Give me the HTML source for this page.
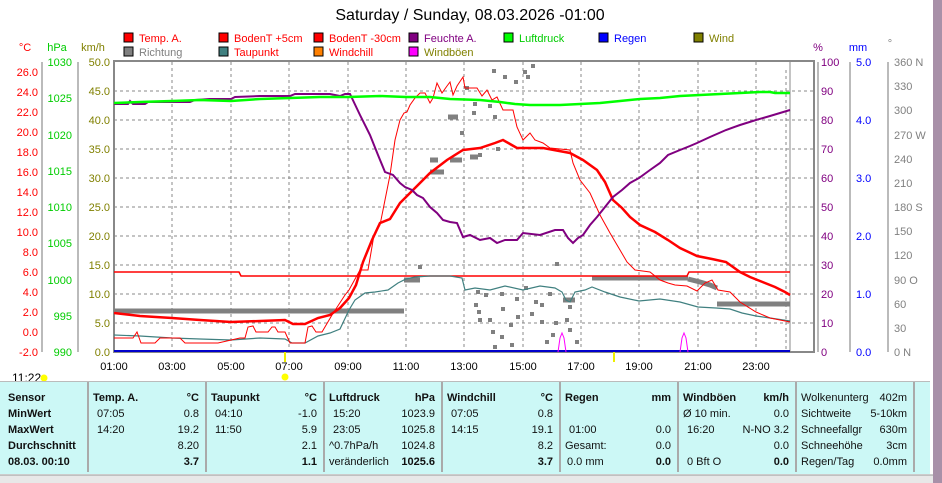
<!DOCTYPE html>
<html><head><meta charset="utf-8"><style>
html,body{margin:0;padding:0;background:#fff;width:942px;height:483px;overflow:hidden;font-family:"Liberation Sans",sans-serif}
svg text{font-family:"Liberation Sans",sans-serif}
.tb{position:absolute;left:0;top:381px;width:930px;height:92px;background:#ccf8f6;border-top:1px solid #bbb}
.col{position:absolute;top:0;height:90px;border-right:2px solid #aaa;font-size:11px;color:#111}
.col div{position:absolute;white-space:nowrap}
</style></head><body>
<svg width="942" height="483" style="position:absolute;left:0;top:0">
<rect x="933" y="0" width="9" height="483" fill="#a890a8"/>
<text x="470" y="20" font-size="16" text-anchor="middle">Saturday / Sunday, 08.03.2026  -01:00</text>
<g font-size="11">
<rect x="124" y="33" width="9" height="9" fill="#f00" stroke="#000"/><text x="139" y="42" fill="#f00">Temp. A.</text>
<rect x="219" y="33" width="9" height="9" fill="#f00" stroke="#000"/><text x="234" y="42" fill="#f00">BodenT +5cm</text>
<rect x="314" y="33" width="9" height="9" fill="#f00" stroke="#000"/><text x="329" y="42" fill="#f00">BodenT -30cm</text>
<rect x="409" y="33" width="9" height="9" fill="#800080" stroke="#000"/><text x="424" y="42" fill="#800080">Feuchte A.</text>
<rect x="504" y="33" width="9" height="9" fill="#0f0" stroke="#000"/><text x="519" y="42" fill="#0c0">Luftdruck</text>
<rect x="599" y="33" width="9" height="9" fill="#00f" stroke="#000"/><text x="614" y="42" fill="#00f">Regen</text>
<rect x="694" y="33" width="9" height="9" fill="#808000" stroke="#000"/><text x="709" y="42" fill="#808000">Wind</text>
<rect x="124" y="47" width="9" height="9" fill="#808080" stroke="#000"/><text x="139" y="56" fill="#808080">Richtung</text>
<rect x="219" y="47" width="9" height="9" fill="#408080" stroke="#000"/><text x="234" y="56" fill="#f00">Taupunkt</text>
<rect x="314" y="47" width="9" height="9" fill="#ff8000" stroke="#000"/><text x="329" y="56" fill="#f00">Windchill</text>
<rect x="409" y="47" width="9" height="9" fill="#f0f" stroke="#000"/><text x="424" y="56" fill="#808000">Windböen</text>
</g>
<g font-size="11">
<text x="25" y="51" fill="#f00" text-anchor="middle">°C</text>
<text x="57" y="51" fill="#0c0" text-anchor="middle">hPa</text>
<text x="93" y="51" fill="#808000" text-anchor="middle">km/h</text>
<text x="818" y="51" fill="#800080" text-anchor="middle">%</text>
<text x="858" y="51" fill="#00f" text-anchor="middle">mm</text>
<text x="890" y="47" fill="#808080" text-anchor="middle">°</text>
</g>
<!-- grid -->
<g stroke="#888" stroke-dasharray="3,3" stroke-width="1">
<line x1="114" x2="814" y1="91" y2="91"/><line x1="114" x2="814" y1="120" y2="120"/><line x1="114" x2="814" y1="149" y2="149"/><line x1="114" x2="814" y1="178" y2="178"/><line x1="114" x2="814" y1="207" y2="207"/><line x1="114" x2="814" y1="236" y2="236"/><line x1="114" x2="814" y1="265" y2="265"/><line x1="114" x2="814" y1="294" y2="294"/><line x1="114" x2="814" y1="323" y2="323"/>
<line x1="172" x2="172" y1="62" y2="352"/><line x1="231" x2="231" y1="62" y2="352"/><line x1="289" x2="289" y1="62" y2="352"/><line x1="348" x2="348" y1="62" y2="352"/><line x1="406" x2="406" y1="62" y2="352"/><line x1="464" x2="464" y1="62" y2="352"/><line x1="523" x2="523" y1="62" y2="352"/><line x1="581" x2="581" y1="62" y2="352"/><line x1="639" x2="639" y1="62" y2="352"/><line x1="698" x2="698" y1="62" y2="352"/><line x1="756" x2="756" y1="62" y2="352"/>
<line x1="786" x2="786" y1="70" y2="352"/>
</g>
<rect x="114" y="61" width="700" height="291" fill="none" stroke="#888" stroke-width="2"/>
<line x1="790" x2="790" y1="62" y2="352" stroke="#888"/>
<!-- left axes -->
<g stroke="#777" fill="none">
<line x1="42" y1="62" x2="42" y2="352"/><line x1="78" y1="62" x2="78" y2="352"/>
<line x1="818" y1="62" x2="818" y2="352"/><line x1="850" y1="62" x2="850" y2="352"/><line x1="888" y1="62" x2="888" y2="352"/>
</g>
<g font-size="11" fill="#f00" text-anchor="end">
<text x="38" y="76">26.0</text><text x="38" y="96">24.0</text><text x="38" y="116">22.0</text><text x="38" y="136">20.0</text><text x="38" y="156">18.0</text><text x="38" y="176">16.0</text><text x="38" y="196">14.0</text><text x="38" y="216">12.0</text><text x="38" y="236">10.0</text><text x="38" y="256">8.0</text><text x="38" y="276">6.0</text><text x="38" y="296">4.0</text><text x="38" y="316">2.0</text><text x="38" y="336">0.0</text><text x="38" y="356">-2.0</text>
</g>
<g font-size="11" fill="#0c0" text-anchor="end">
<text x="72" y="66">1030</text><text x="72" y="102">1025</text><text x="72" y="139">1020</text><text x="72" y="175">1015</text><text x="72" y="211">1010</text><text x="72" y="247">1005</text><text x="72" y="284">1000</text><text x="72" y="320">995</text><text x="72" y="356">990</text>
</g>
<g font-size="11" fill="#808000" text-anchor="end">
<text x="110" y="66">50.0</text><text x="110" y="95">45.0</text><text x="110" y="124">40.0</text><text x="110" y="153">35.0</text><text x="110" y="182">30.0</text><text x="110" y="211">25.0</text><text x="110" y="240">20.0</text><text x="110" y="269">15.0</text><text x="110" y="298">10.0</text><text x="110" y="327">5.0</text><text x="110" y="356">0.0</text>
</g>
<g font-size="11" fill="#800080">
<text x="821" y="66">100</text><text x="821" y="95">90</text><text x="821" y="124">80</text><text x="821" y="153">70</text><text x="821" y="182">60</text><text x="821" y="211">50</text><text x="821" y="240">40</text><text x="821" y="269">30</text><text x="821" y="298">20</text><text x="821" y="327">10</text><text x="821" y="356">0</text>
</g>
<g font-size="11" fill="#00f">
<text x="856" y="66">5.0</text><text x="856" y="124">4.0</text><text x="856" y="182">3.0</text><text x="856" y="240">2.0</text><text x="856" y="298">1.0</text><text x="856" y="356">0.0</text>
</g>
<g font-size="11" fill="#808080">
<text x="894" y="66">360 N</text><text x="894" y="90">330</text><text x="894" y="114">300</text><text x="894" y="139">270 W</text><text x="894" y="163">240</text><text x="894" y="187">210</text><text x="894" y="211">180 S</text><text x="894" y="235">150</text><text x="894" y="259">120</text><text x="894" y="284">90 O</text><text x="894" y="308">60</text><text x="894" y="332">30</text><text x="894" y="356">0 N</text>
</g>
<g font-size="11" fill="#000" text-anchor="middle">
<text x="114" y="370">01:00</text><text x="172" y="370">03:00</text><text x="231" y="370">05:00</text><text x="289" y="370">07:00</text><text x="348" y="370">09:00</text><text x="406" y="370">11:00</text><text x="464" y="370">13:00</text><text x="523" y="370">15:00</text><text x="581" y="370">17:00</text><text x="639" y="370">19:00</text><text x="698" y="370">21:00</text><text x="756" y="370">23:00</text>
</g>
<text x="12" y="382" font-size="12">11:22</text>
<circle cx="44" cy="378" r="3.5" fill="#ff0"/>
<circle cx="285" cy="377" r="3.5" fill="#ff0"/>
<line x1="285" y1="350" x2="285" y2="362" stroke="#ee0" stroke-width="2"/>
<line x1="614" y1="350" x2="614" y2="362" stroke="#ee0" stroke-width="2"/>
<!-- direction gray -->
<g stroke="#808080" stroke-width="5" fill="none">
<line x1="114" y1="311" x2="404" y2="311"/>
<line x1="592" y1="278" x2="688" y2="278"/>
<polyline points="688,279 700,282 710,285 717,288"/>
<line x1="717" y1="304" x2="790" y2="304"/>
<line x1="404" y1="280" x2="420" y2="280"/>
<line x1="450" y1="160" x2="462" y2="160"/>
<line x1="430" y1="172" x2="444" y2="172"/>
<line x1="430" y1="160" x2="438" y2="160"/>
<line x1="470" y1="157" x2="478" y2="157"/>
<line x1="448" y1="117" x2="458" y2="117"/>
<line x1="563" y1="300" x2="575" y2="300"/>
</g>
<g fill="#808080">
<rect x="418" y="265" width="4" height="4"/><rect x="492" y="69" width="4" height="4"/><rect x="503" y="75" width="4" height="4"/><rect x="514" y="80" width="4" height="4"/><rect x="523" y="70" width="4" height="4"/><rect x="531" y="64" width="4" height="4"/><rect x="526" y="75" width="4" height="4"/><rect x="465" y="86" width="4" height="4"/><rect x="473" y="102" width="4" height="4"/><rect x="488" y="104" width="4" height="4"/><rect x="493" y="115" width="4" height="4"/><rect x="472" y="111" width="4" height="4"/><rect x="460" y="131" width="4" height="4"/><rect x="496" y="147" width="4" height="4"/><rect x="478" y="153" width="4" height="4"/><rect x="555" y="262" width="4" height="4"/>
<rect x="476" y="290" width="4" height="4"/><rect x="484" y="293" width="4" height="4"/><rect x="477" y="310" width="4" height="4"/><rect x="478" y="318" width="4" height="4"/><rect x="488" y="318" width="4" height="4"/><rect x="500" y="292" width="4" height="4"/><rect x="501" y="307" width="4" height="4"/><rect x="515" y="297" width="4" height="4"/><rect x="516" y="315" width="4" height="4"/><rect x="509" y="323" width="4" height="4"/><rect x="500" y="335" width="4" height="4"/><rect x="510" y="343" width="4" height="4"/><rect x="491" y="330" width="4" height="4"/><rect x="493" y="345" width="4" height="4"/><rect x="530" y="312" width="4" height="4"/><rect x="540" y="320" width="4" height="4"/><rect x="534" y="300" width="4" height="4"/><rect x="545" y="340" width="4" height="4"/><rect x="554" y="321" width="4" height="4"/><rect x="565" y="318" width="4" height="4"/><rect x="568" y="305" width="4" height="4"/><rect x="575" y="340" width="4" height="4"/><rect x="548" y="292" width="4" height="4"/><rect x="568" y="328" width="4" height="4"/><rect x="524" y="286" width="4" height="4"/><rect x="551" y="333" width="4" height="4"/><rect x="540" y="303" width="4" height="4"/><rect x="474" y="303" width="4" height="4"/>
</g>
<!-- BodenT -30 -->
<polyline points="114,272 239,272 241,276 687,276 689,272 790,272" fill="none" stroke="#f00" stroke-width="1.5"/>
<!-- rain baseline -->
<line x1="114" y1="351" x2="790" y2="351" stroke="#00c" stroke-width="2"/>
<!-- windboen -->
<polyline points="558,352 560,338 562,333 564,338 566,352" fill="none" stroke="#f0f"/>
<polyline points="680,352 682,338 684,333 686,338 688,352" fill="none" stroke="#f0f"/>
<!-- dewpoint -->
<polyline points="114,335 140,336 172,338 200,339 231,340 260,338 285,339 292,343 305,343 318,336 330,333 340,329 349,310 355,300 365,293 375,292 388,290 398,283 406,279 415,277 430,276 450,276 462,278 465,290 475,288 490,290 505,286 523,290 540,286 555,288 562,292 566,300 570,302 575,292 585,290 592,287 605,292 620,297 639,301 660,299 680,302 698,307 716,308 730,309 742,313 756,316 770,318 790,321" fill="none" stroke="#408080" stroke-width="1.2"/>
<!-- BodenT +5 thin -->
<polyline points="114,338 133,338 137,332 141,343 155,343 160,338 180,338 185,343 218,343 240,338 245,338 248,327 253,326 256,332 268,332 272,327 275,327 278,332 285,332 290,343 305,343 308,327 312,326 316,332 322,332 332,315 345,295 349,290 360,270 368,270 374,235 380,225 385,200 390,175 395,140 400,120 404,113 407,112 410,105 415,98 420,93 425,93 430,103 433,98 437,83 442,93 447,86 450,82 453,95 457,86 463,77 465,88 477,88 482,96 487,90 492,100 497,97 503,110 513,110 517,127 523,140 530,133 535,140 543,143 550,148 570,150 573,163 580,180 590,193 600,215 610,233 620,250 627,262 635,270 650,272 660,280 668,283 675,285 687,286 697,291 705,283 712,280 718,290 730,292 740,302 756,312 770,318 780,320 790,322" fill="none" stroke="#f00" stroke-width="1"/>
<!-- temp A thick -->
<polyline points="114,313 140,316 172,318 200,320 231,322 260,321 285,320 293,324 305,324 318,318 330,315 340,308 349,298 356,285 363,262 372,240 380,223 390,219 400,203 413,190 430,173 447,160 463,150 480,148 495,143 503,140 510,144 517,148 543,148 570,153 583,160 597,170 605,182 613,200 622,208 630,217 640,225 655,232 668,240 680,248 697,256 712,259 726,262 733,267 740,272 750,277 760,281 775,287 785,292 790,295" fill="none" stroke="#f00" stroke-width="2.5"/>
<!-- humidity -->
<polyline points="114,104 128,104 130,101 133,104 145,104 148,102 172,102 190,102 195,100 210,99 231,99 235,97 260,96 290,96 295,94 330,94 340,96 345,94 350,94 360,115 370,135 378,155 385,172 393,175 400,183 405,187 412,190 417,195 423,198 430,207 437,213 443,220 450,222 457,223 460,230 463,237 470,235 480,240 490,238 497,243 505,240 517,240 523,233 540,235 555,230 563,230 568,238 573,243 578,238 583,235 590,225 597,217 605,207 613,197 622,190 630,183 639,178 650,170 660,163 668,155 680,150 690,146 697,143 710,137 726,130 740,125 756,120 770,116 780,113 790,110" fill="none" stroke="#800080" stroke-width="2"/>
<!-- pressure -->
<polyline points="114,103 140,102 172,101 200,100 231,101 260,99 290,98 320,97 348,97 380,96 406,97 430,97 450,99 480,100 500,102 515,104 530,105 560,105 580,104 600,103 620,101 640,99 660,98 680,96 700,95 720,94 740,93 760,92 770,92 775,93 790,93" fill="none" stroke="#0f0" stroke-width="2.5"/>
<!-- status bar -->
<rect x="0" y="475" width="933" height="8" fill="#e8e8e8"/>
<line x1="0" y1="475" x2="933" y2="475" stroke="#999"/>
</svg>
<div class="tb">
<div class="col" style="left:0;width:87px"><div style="left:8px;top:10px;font-weight:bold">Sensor</div><div style="left:8px;top:26px;font-weight:bold">MinWert</div><div style="left:8px;top:42px;font-weight:bold">MaxWert</div><div style="left:8px;top:58px;font-weight:bold">Durchschnitt</div><div style="left:8px;top:74px;font-weight:bold">08.03. 00:10</div></div>
<div class="col" style="left:89px;width:116px"><div style="left:4px;top:10px;font-weight:bold">Temp. A.</div><div style="right:6px;top:10px;font-weight:bold">°C</div><div style="left:8px;top:26px">07:05</div><div style="right:6px;top:26px">0.8</div><div style="left:8px;top:42px">14:20</div><div style="right:6px;top:42px">19.2</div><div style="right:6px;top:58px">8.20</div><div style="right:6px;top:74px;font-weight:bold">3.7</div></div>
<div class="col" style="left:207px;width:116px"><div style="left:4px;top:10px;font-weight:bold">Taupunkt</div><div style="right:6px;top:10px;font-weight:bold">°C</div><div style="left:8px;top:26px">04:10</div><div style="right:6px;top:26px">-1.0</div><div style="left:8px;top:42px">11:50</div><div style="right:6px;top:42px">5.9</div><div style="right:6px;top:58px">2.1</div><div style="right:6px;top:74px;font-weight:bold">1.1</div></div>
<div class="col" style="left:325px;width:116px"><div style="left:4px;top:10px;font-weight:bold">Luftdruck</div><div style="right:6px;top:10px;font-weight:bold">hPa</div><div style="left:8px;top:26px">15:20</div><div style="right:6px;top:26px">1023.9</div><div style="left:8px;top:42px">23:05</div><div style="right:6px;top:42px">1025.8</div><div style="left:4px;top:58px">^0.7hPa/h</div><div style="right:6px;top:58px">1024.8</div><div style="left:4px;top:74px">veränderlich</div><div style="right:6px;top:74px;font-weight:bold">1025.6</div></div>
<div class="col" style="left:443px;width:116px"><div style="left:4px;top:10px;font-weight:bold">Windchill</div><div style="right:6px;top:10px;font-weight:bold">°C</div><div style="left:8px;top:26px">07:05</div><div style="right:6px;top:26px">0.8</div><div style="left:8px;top:42px">14:15</div><div style="right:6px;top:42px">19.1</div><div style="right:6px;top:58px">8.2</div><div style="right:6px;top:74px;font-weight:bold">3.7</div></div>
<div class="col" style="left:561px;width:116px"><div style="left:4px;top:10px;font-weight:bold">Regen</div><div style="right:6px;top:10px;font-weight:bold">mm</div><div style="left:8px;top:42px">01:00</div><div style="right:6px;top:42px">0.0</div><div style="left:4px;top:58px">Gesamt:</div><div style="right:6px;top:58px">0.0</div><div style="left:6px;top:74px">0.0 mm</div><div style="right:6px;top:74px;font-weight:bold">0.0</div></div>
<div class="col" style="left:679px;width:116px"><div style="left:4px;top:10px;font-weight:bold">Windböen</div><div style="right:6px;top:10px;font-weight:bold">km/h</div><div style="left:4px;top:26px">Ø 10 min.</div><div style="right:6px;top:26px">0.0</div><div style="left:8px;top:42px">16:20</div><div style="right:6px;top:42px">N-NO 3.2</div><div style="right:6px;top:58px">0.0</div><div style="left:8px;top:74px">0 Bft O</div><div style="right:6px;top:74px;font-weight:bold">0.0</div></div>
<div class="col" style="left:797px;width:116px"><div style="left:4px;top:10px">Wolkenunterg</div><div style="right:6px;top:10px">402m</div><div style="left:4px;top:26px">Sichtweite</div><div style="right:6px;top:26px">5-10km</div><div style="left:4px;top:42px">Schneefallgr</div><div style="right:6px;top:42px">630m</div><div style="left:4px;top:58px">Schneehöhe</div><div style="right:6px;top:58px">3cm</div><div style="left:4px;top:74px">Regen/Tag</div><div style="right:6px;top:74px">0.0mm</div></div>
</div>
</body></html>
